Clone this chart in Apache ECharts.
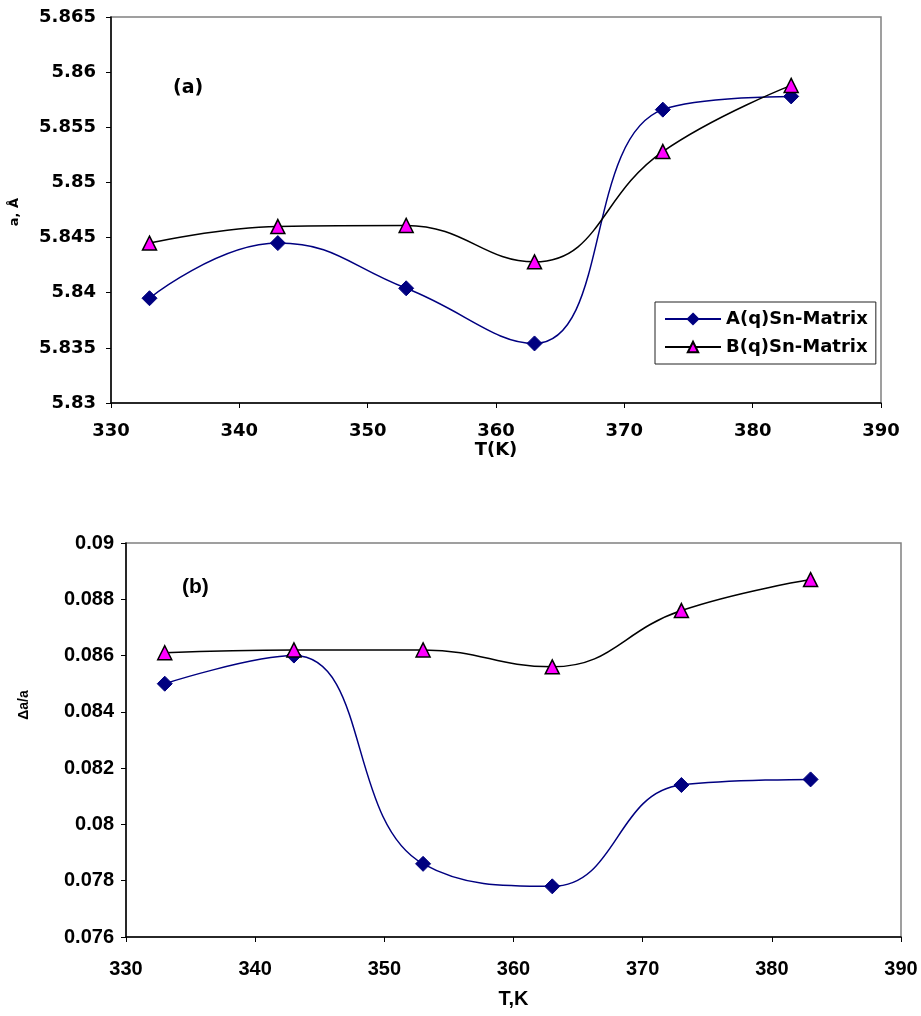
<!DOCTYPE html>
<html>
<head>
<meta charset="utf-8">
<script src="https://cdn.jsdelivr.net/npm/echarts@6/dist/echarts.min.js"></script>
<style>html,body{margin:0;padding:0;background:#fff;}#c{width:921px;height:1016px;}</style>
</head>
<body>
<div id="c"></div>
<script>
const temps = [333, 343, 353, 363, 373, 383];
const aTop = [5.8395, 5.8445, 5.8404, 5.8354, 5.8566, 5.8578];
const bTop = [5.8445, 5.8460, 5.8461, 5.8428, 5.8528, 5.8588];
const aBot = [0.0850, 0.0860, 0.0786, 0.0778, 0.0814, 0.0816];
const bBot = [0.0861, 0.0862, 0.0862, 0.0856, 0.0876, 0.0887];
const nameA = 'A(q)Sn-Matrix';
const nameB = 'B(q)Sn-Matrix';

const pairs = (ys) => temps.map((t, i) => [t, ys[i]]);
const FW = "'DejaVu Sans', 'Liberation Sans', sans-serif";
const FA = "'Liberation Sans', Arial, sans-serif";

const chart = echarts.init(document.getElementById('c'), null, {renderer: 'canvas'});

function xAxis(gi, font, size, margin, name, nameGap) {
  return {
    type: 'value', gridIndex: gi, min: 330, max: 390, interval: 10,
    axisLine: {show: true, lineStyle: {color: '#000', width: 1.5}},
    axisTick: {show: true, inside: false, length: 5, lineStyle: {color: '#000'}},
    splitLine: {show: false},
    axisLabel: {color: '#000', fontFamily: font, fontWeight: 'bold', fontSize: size, margin: margin},
    name: name, nameLocation: 'middle', nameGap: nameGap,
    nameTextStyle: {color: '#000', fontFamily: font, fontWeight: 'bold', fontSize: size}
  };
}
function yAxis(gi, min, max, interval, font, size, margin) {
  return {
    type: 'value', gridIndex: gi, min: min, max: max, interval: interval,
    axisLine: {show: true, lineStyle: {color: '#000', width: 1.5}},
    axisTick: {show: true, inside: false, length: 5, lineStyle: {color: '#000'}},
    splitLine: {show: false},
    axisLabel: {color: '#000', fontFamily: font, fontWeight: 'bold', fontSize: size, margin: margin,
      formatter: (v) => String(+v.toFixed(3))}
  };
}

const lineA = (xi, data) => ({
  name: nameA, type: 'line', xAxisIndex: xi, yAxisIndex: xi, data: data,
  smooth: 0.45, symbol: 'diamond', symbolSize: 15,
  lineStyle: {color: '#000080', width: 1.5},
  itemStyle: {color: '#000080', borderColor: '#000080', borderWidth: 1},
  z: 3
});
const lineB = (xi, data) => ({
  name: nameB, type: 'line', xAxisIndex: xi, yAxisIndex: xi, data: data,
  smooth: 0.45, symbol: 'triangle', symbolSize: 14,
  lineStyle: {color: '#000', width: 1.5},
  itemStyle: {color: '#ff00ff', borderColor: '#000', borderWidth: 1.5},
  z: 4
});

chart.setOption({
  animation: false,
  backgroundColor: '#fff',
  title: [
    {text: '(a)', left: 168, top: 74, textStyle: {fontFamily: FW, fontWeight: 'bold', fontSize: 19, color: '#000'}},
    {text: '(b)', left: 177, top: 572, textStyle: {fontFamily: FA, fontWeight: 'bold', fontSize: 21, color: '#000'}}
  ],
  graphic: [
    {type: 'text', x: 15, y: 212, rotation: Math.PI / 2, style: {text: 'a, Å', fontFamily: FW, fontWeight: 'bold', fontSize: 13, fill: '#000', align: 'center', verticalAlign: 'middle'}},
    {type: 'text', x: 24, y: 705, rotation: Math.PI / 2, style: {text: 'Δa/a', fontFamily: FA, fontWeight: 'bold', fontSize: 14, fill: '#000', align: 'center', verticalAlign: 'middle'}}
  ],
  legend: {
    show: true, orient: 'vertical', left: 655, top: 302,
    data: [nameA, nameB],
    backgroundColor: '#fff', borderColor: '#222', borderWidth: 1,
    padding: [8, 8, 8, 9], itemGap: 10, itemWidth: 56, itemHeight: 13,
    textStyle: {fontFamily: FW, fontWeight: 'bold', fontSize: 18, color: '#000'}
  },
  grid: [
    {left: 111, top: 17, width: 770, height: 386, show: true, borderColor: '#808080', borderWidth: 1.5, backgroundColor: '#fff'},
    {left: 126, top: 543, width: 775, height: 394, show: true, borderColor: '#808080', borderWidth: 1.5, backgroundColor: '#fff'}
  ],
  xAxis: [
    xAxis(0, FW, 18, 19, 'T(K)', 38),
    xAxis(1, FA, 20, 22, 'T,K', 52)
  ],
  yAxis: [
    yAxis(0, 5.83, 5.865, 0.005, FW, 18, 15),
    yAxis(1, 0.076, 0.09, 0.002, FA, 20, 12)
  ],
  series: [
    lineA(0, pairs(aTop)),
    lineB(0, pairs(bTop)),
    lineA(1, pairs(aBot)),
    lineB(1, pairs(bBot))
  ]
});
</script>
</body>
</html>
